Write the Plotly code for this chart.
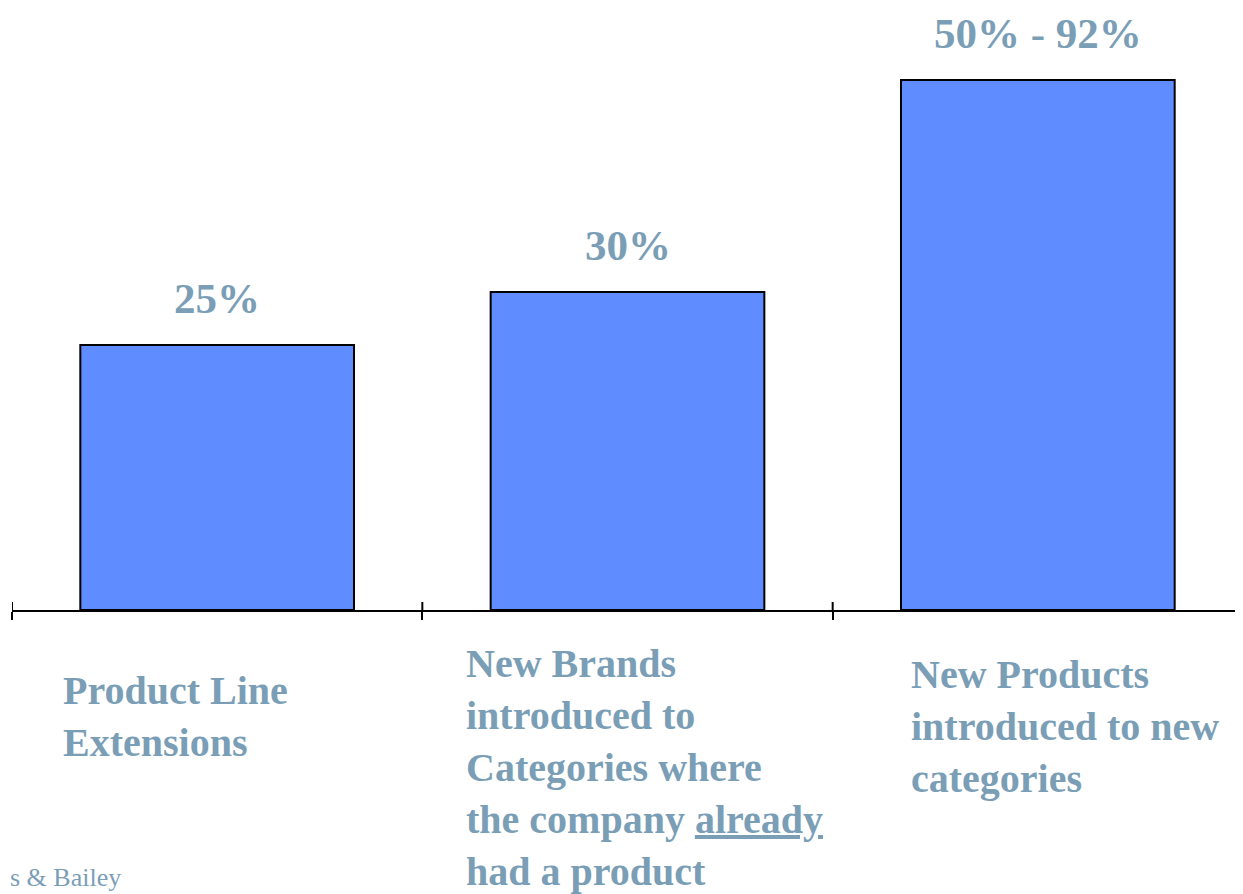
import plotly.graph_objects as go

# ---- data ----
categories = [
    "Product Line<br>Extensions",
    "New Brands<br>introduced to<br>Categories where<br>the company <u>already</u><br>had a product",
    "New Products<br>introduced to new<br>categories",
]
values = [25, 30, 50]
value_labels = ["25%", "30%", "50% - 92%"]
footer_text = "s & Bailey"

# ---- style / layout ----
BAR_COLOR = "#5F8CFF"
TEXT_COLOR = "#7A9EB6"
FONT = "Liberation Serif"
label_xshift = [49, 42, 76]      # px from left category boundary
label_yshift = [-56, -29, -40]   # px from axis line (top of text)

# page body adds an 8px margin, so the figure is 8px smaller than the window
W, H = 1235, 886
ML, MR, MT, MB = 4, 0, 0, 284
plot_h = H - MT - MB
plot_w = W - ML - MR
PX_PER_UNIT = 10.6

x_idx = list(range(len(categories)))
boundaries = [b - 0.5 for b in range(len(categories) + 1)]

fig = go.Figure()
fig.add_trace(go.Bar(
    x=x_idx, y=values,
    marker=dict(color=BAR_COLOR, line=dict(color="black", width=2)),
    width=0.667, hoverinfo="skip",
))

annotations = []
for i, (v, lab) in enumerate(zip(values, value_labels)):
    annotations.append(dict(
        x=i, y=v, xref="x", yref="y", text=f"<b>{lab}</b>", showarrow=False,
        yanchor="middle", xanchor="center", yshift=47,
        font=dict(family=FONT, size=43, color=TEXT_COLOR),
    ))
for i, cat in enumerate(categories):
    annotations.append(dict(
        x=i - 0.5, y=0, xref="x", yref="y", text=f"<b>{cat}</b>", showarrow=False,
        xanchor="left", yanchor="top", align="left",
        xshift=label_xshift[i], yshift=label_yshift[i],
        font=dict(family=FONT, size=40, color=TEXT_COLOR),
    ))
annotations.append(dict(
    x=(0 - ML) / plot_w, y=(plot_h - (H - MT)) / plot_h,
    xref="paper", yref="paper",
    text=footer_text, showarrow=False, xanchor="left", yanchor="bottom",
    font=dict(family=FONT, size=26, color=TEXT_COLOR),
))

shapes = []
for b in boundaries:
    shapes.append(dict(
        type="line", xref="x", yref="y", x0=b, x1=b,
        ysizemode="pixel", yanchor=0, y0=0, y1=8,
        line=dict(color="black", width=2),
    ))

fig.update_layout(
    width=W, height=H,
    margin=dict(l=ML, r=MR, t=MT, b=MB),
    plot_bgcolor="white", paper_bgcolor="white",
    showlegend=False,
    annotations=annotations,
    shapes=shapes,
    xaxis=dict(
        range=[-0.5, len(categories) - 0.5], showticklabels=False,
        tickvals=boundaries, ticks="outside", ticklen=8, tickwidth=2,
        tickcolor="black",
        showgrid=False, zeroline=False, showline=True,
        linecolor="black", linewidth=2,
    ),
    yaxis=dict(
        range=[0, plot_h / PX_PER_UNIT], visible=False,
        showgrid=False, zeroline=False,
    ),
)

fig.write_html("out.html")
